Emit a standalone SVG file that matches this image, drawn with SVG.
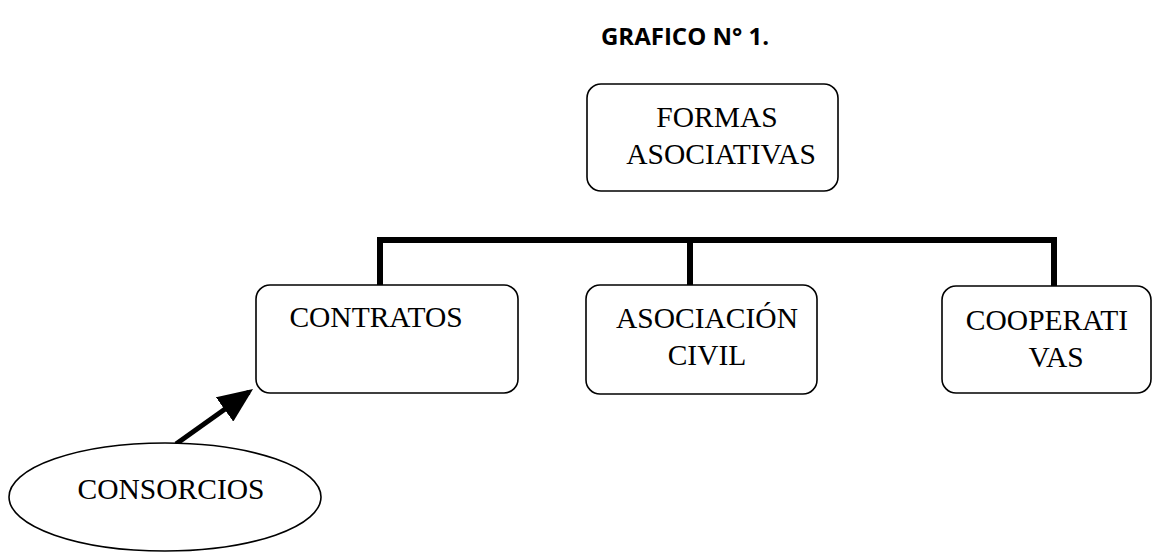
<svg xmlns="http://www.w3.org/2000/svg" width="1153" height="554" viewBox="0 0 1153 554">
<style>
.box{fill:#fff;stroke:#000;stroke-width:1.6}
.t{font-family:'Liberation Serif','Times New Roman',serif;font-size:29.5px;fill:#000;text-anchor:middle}
.bar{stroke:#000;stroke-width:6;fill:none;stroke-linecap:square}
</style>
<defs>
<marker id="ah" markerWidth="7" markerHeight="6" refX="6" refY="3" orient="auto" markerUnits="strokeWidth">
<path d="M0,0 L7,3 L0,6 Z" fill="#000"/>
</marker>
</defs>
<rect width="1153" height="554" fill="#fff"/>
<text x="685" y="45" font-family="'Open Sans','Liberation Sans',sans-serif" font-weight="bold" font-size="24" text-anchor="middle">GRAFICO N° 1.</text>
<g id="connectors">
<path class="bar" d="M380,285 V240 H1054 V285 M690,240 V285"/>
<line x1="176" y1="444" x2="249" y2="392" stroke="#000" stroke-width="5" marker-end="url(#ah)"/>
</g>
<g id="formas">
<rect class="box" x="587" y="84" width="251" height="107" rx="14"/>
<text class="t" x="717" y="127">FORMAS</text>
<text class="t" x="721" y="164">ASOCIATIVAS</text>
</g>
<g id="contratos">
<rect class="box" x="256" y="285" width="262" height="108" rx="14"/>
<text class="t" x="376" y="327">CONTRATOS</text>
</g>
<g id="asociacion">
<rect class="box" x="586" y="285" width="231" height="109" rx="14"/>
<text class="t" x="707" y="328">ASOCIACIÓN</text>
<text class="t" x="707" y="365">CIVIL</text>
</g>
<g id="cooperativas">
<rect class="box" x="942" y="286" width="209" height="107" rx="14"/>
<text class="t" x="1047" y="330">COOPERATI</text>
<text class="t" x="1056" y="367">VAS</text>
</g>
<g id="consorcios">
<ellipse class="box" cx="165" cy="497" rx="156" ry="54"/>
<text class="t" x="171" y="499">CONSORCIOS</text>
</g>
</svg>
